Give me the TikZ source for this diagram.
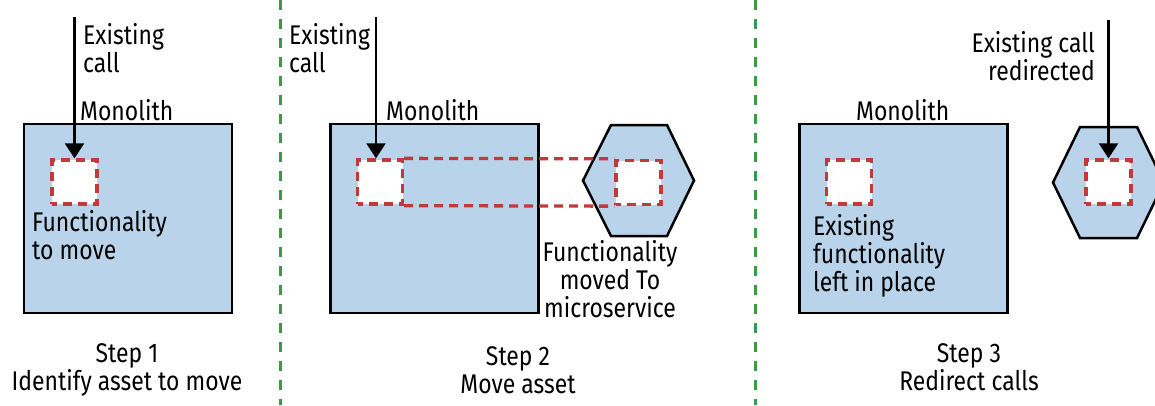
\documentclass[tikz,border=0pt]{standalone}
\usepackage{fontspec}
\setmainfont[FakeStretch=0.85]{Fira Sans}
\usetikzlibrary{arrows.meta}
\definecolor{boxblue}{HTML}{B9D3EA}
\definecolor{dred}{HTML}{C0393B}
\definecolor{dgreen}{HTML}{3A9A4A}
\begin{document}
\begin{tikzpicture}[x=1pt,y=-1pt,
  every node/.style={font=\fontsize{27}{28}\selectfont, inner sep=0pt},
  mono/.style={draw=black, line width=2.5pt, fill=boxblue, minimum width=208pt, minimum height=189pt},
  hexa/.style={draw=black, line width=2.5pt, fill=boxblue, line join=miter},
  asset/.style={draw=dred, line width=3.3pt, dash pattern=on 9pt off 6pt, dash phase=4pt, fill=white, minimum width=45pt, minimum height=44pt},
  link/.style={draw=dred, line width=3.3pt, dash pattern=on 9pt off 6pt},
  call/.style={draw=black, line width=2.2pt, -{Triangle[width=19pt,length=15pt]}},
  sepline/.style={draw=dgreen, line width=3pt, dash pattern=on 10pt off 9pt},
  lbl/.style={align=left, anchor=base west},
  steplbl/.style={align=center, anchor=base}]
\useasboundingbox (0,0) rectangle (1155,405);
\fill[white] (0,0) rectangle (1155,405);
% separators
\draw[sepline] (280,0) -- (280,405);
\draw[sepline] (755,0) -- (755,405);
% Step 1
\node[mono] (m1) at (128,218.5) {};
\node[asset] (s1) at (74.5,182) {};
\coordinate (c1) at (74.5,17);
\draw[call] (c1) -- (s1.north);
\node[lbl] (t1a) at (83,72) {Existing\\call};
\node[lbl] (t1b) at (80,120) {Monolith};
\node[lbl] (t1c) at (32,259) {Functionality\\to move};
\node[steplbl] (t1d) at (127,390) {Step 1\\Identify asset to move};
% Step 2
\node[mono] (m2) at (434.5,218.5) {};
\node[asset] (s2a) at (380,182) {};
\draw[hexa] (583,180.5) -- (611,125) -- (667,125) -- (694,180.5) -- (667,236) -- (611,236) -- cycle;
\node[asset] (s2b) at (638.5,182.5) {};
\draw[link] (s2a.north east) -- (s2b.north west);
\draw[link] (s2a.south east) -- (s2b.south west);
\coordinate (c2) at (376,17);
\draw[call] (c2) -- (c2 |- s2a.north);
\node[lbl] (t2a) at (289,72) {Existing\\call};
\node[lbl] (t2b) at (386,120) {Monolith};
\node[steplbl] (t2c) at (610,317) {Functionality\\moved To\\microservice};
\node[steplbl] (t2d) at (518,393) {Step 2\\Move asset};
% Step 3
\node[mono] (m3) at (903.5,218.5) {};
\node[asset] (s3a) at (849,182) {};
\draw[hexa] (1053,182.5) -- (1080,127) -- (1137,127) -- (1164,182.5) -- (1137,238) -- (1080,238) -- cycle;
\node[asset] (s3b) at (1108.5,182) {};
\coordinate (c3) at (1108.5,20);
\draw[call] (c3) -- (s3b.north);
\node[align=right, anchor=base east] (t3a) at (1095,80) {Existing call\\redirected};
\node[lbl] (t3b) at (856,120) {Monolith};
\node[lbl] (t3c) at (813,291) {Existing\\functionality\\left in place};
\node[steplbl] (t3d) at (969,390) {Step 3\\Redirect calls};
\end{tikzpicture}
\end{document}
